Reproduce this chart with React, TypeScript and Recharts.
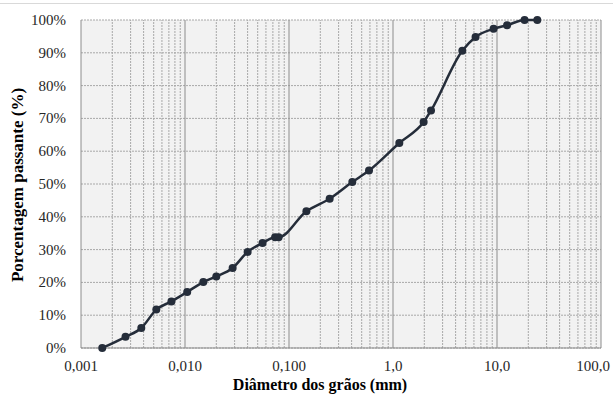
import React from 'react';
import { LineChart, Line, CartesianGrid, XAxis, YAxis, ReferenceLine, Label } from 'recharts';

// curva granulométrica: diâmetro (mm) x porcentagem passante (%)
const DIAMETROS = [
  0.0016, 0.00268, 0.0038, 0.0053, 0.0074, 0.0105, 0.015, 0.02, 0.0287, 0.04, 0.0557,
  0.0735, 0.0795, 0.147, 0.246, 0.406, 0.588, 1.15, 1.97, 2.32, 4.64, 6.22, 9.27, 12.5,
  18.4, 24.4,
];
const PASSANTE = [
  0, 3.4, 6.1, 11.7, 14.2, 17.1, 20.1, 21.8, 24.4, 29.3, 32.0, 33.8, 33.8, 41.7, 45.5,
  50.6, 54.1, 62.5, 68.9, 72.4, 90.6, 94.8, 97.3, 98.4, 100, 100,
];
const X_TICKS = [0.001, 0.01, 0.1, 1, 10, 100];
const X_LABELS = ['0,001', '0,010', '0,100', '1,0', '10,0', '100,0'];
const Y_TICKS = [0, 10, 20, 30, 40, 50, 60, 70, 80, 90, 100];

const data = DIAMETROS.map((d, i) => ({ d, p: PASSANTE[i] }));

// linhas secundárias 2..9 de cada década
const MINOR = X_TICKS.slice(0, -1).flatMap((dec) =>
  [2, 3, 4, 5, 6, 7, 8, 9].map((m) => Number((dec * m).toPrecision(3))),
);

const FONT = "'Times New Roman', 'Liberation Serif', Tinos, 'Noto Serif', 'DejaVu Serif', serif";
const LINE_COLOR = '#252d3a';
const MAJOR_COLOR = '#8c8c8c';
const MINOR_COLOR = '#a8a8a8';

const XTick = ({ x, y, payload }: any) => {
  const i = X_TICKS.indexOf(payload.value);
  const last = i === X_TICKS.length - 1;
  return (
    <text
      x={last ? 610 : x}
      y={y}
      dy={9}
      textAnchor={last ? 'end' : 'middle'}
      fill="#262626"
      style={{ fontFamily: FONT, fontSize: 15 }}
    >
      {X_LABELS[i] ?? ''}
    </text>
  );
};

const YTick = ({ x, y, payload }: any) => (
  <text x={x} y={y} dy={5} textAnchor="end" fill="#262626" style={{ fontFamily: FONT, fontSize: 15 }}>
    {`${payload.value}%`}
  </text>
);

export default function App() {
  return (
    <div style={{ position: 'absolute', left: 0, top: 0, width: 613, height: 394, background: '#fff', overflow: 'hidden' }}>
      <div style={{ position: 'absolute', left: 0, top: 3, width: 613, height: 1, background: '#d9d9d9' }} />
      <LineChart width={613} height={394} data={data} margin={{ top: 20, right: 12, left: 0, bottom: 0 }}>
        <CartesianGrid vertical={false} fill="#f2f2f2" stroke={MINOR_COLOR} strokeDasharray="2 1" />
        {MINOR.map((v) => (
          <ReferenceLine key={v} x={v} stroke={MINOR_COLOR} strokeDasharray="2 1" />
        ))}
        {X_TICKS.map((v) => (
          <ReferenceLine key={'M' + v} x={v} stroke={MAJOR_COLOR} />
        ))}
        <XAxis
          dataKey="d"
          type="number"
          scale="log"
          domain={[0.001, 100]}
          ticks={X_TICKS}
          allowDataOverflow
          tickLine={false}
          tickSize={0}
          tickMargin={14}
          height={46}
          axisLine={{ stroke: MAJOR_COLOR }}
          tick={<XTick />}
        >
          <Label
            content={({ viewBox }: any) => (
              <text
                x={viewBox.x + viewBox.width / 2 - 21}
                y={viewBox.y + 42}
                textAnchor="middle"
                fill="#000"
                style={{ fontFamily: FONT, fontWeight: 'bold', fontSize: 16 }}
              >
                Diâmetro dos grãos (mm)
              </text>
            )}
          />
        </XAxis>
        <YAxis
          type="number"
          domain={[0, 100]}
          ticks={Y_TICKS}
          width={81}
          tickLine={false}
          axisLine={false}
          tickSize={0}
          tickMargin={15}
          tick={<YTick />}
        >
          <Label
            content={({ viewBox }: any) => (
              <text
                transform={`translate(22.5, ${viewBox.y + viewBox.height / 2 + 1}) rotate(-90)`}
                textAnchor="middle"
                fill="#000"
                style={{ fontFamily: FONT, fontWeight: 'bold', fontSize: 17 }}
              >
                Porcentagem passante (%)
              </text>
            )}
          />
        </YAxis>
        <Line
          type="monotone"
          dataKey="p"
          stroke={LINE_COLOR}
          strokeWidth={2.5}
          dot={{ r: 4, fill: LINE_COLOR, stroke: 'none' }}
          activeDot={false}
          isAnimationActive={false}
        />
      </LineChart>
    </div>
  );
}
